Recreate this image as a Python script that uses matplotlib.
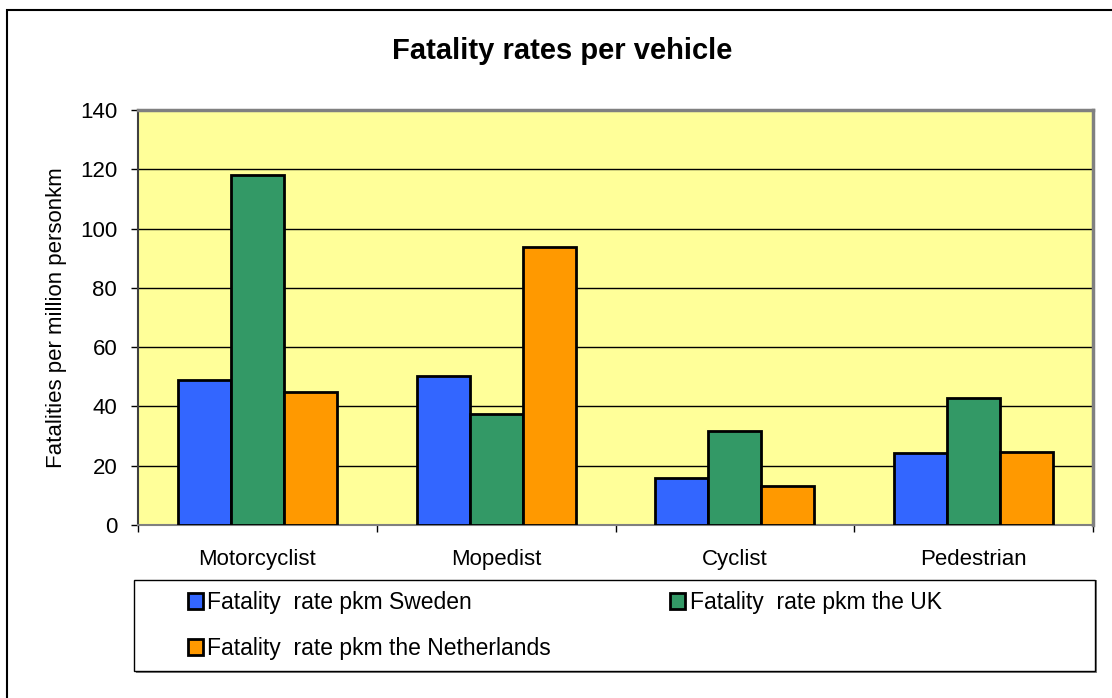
import numpy as np
import matplotlib
matplotlib.use("Agg")
import matplotlib.pyplot as plt
from matplotlib.patches import Rectangle

plt.rcParams['font.family'] = ['Liberation Sans', 'DejaVu Sans']

categories = ["Motorcyclist", "Mopedist", "Cyclist", "Pedestrian"]
series_names = ["Fatality  rate pkm Sweden", "Fatality  rate pkm the UK",
                "Fatality  rate pkm the Netherlands"]
sweden = [48.9, 50.1, 15.7, 24.4]
uk = [118.1, 37.3, 31.8, 42.7]
netherlands = [45.0, 93.7, 13.2, 24.6]
colors = ["#3366FF", "#339966", "#FF9900"]
yticks = [0, 20, 40, 60, 80, 100, 120, 140]

W, H = 1112, 698
fig = plt.figure(figsize=(W / 100, H / 100), dpi=100)

# outer chart border (runs off the right/bottom edges)
fig.add_artist(Rectangle((7 / W, -0.1), 1.2, 1 - 10 / H + 0.1, transform=fig.transFigure,
                         facecolor="white", edgecolor="black", lw=1.5, zorder=0))

ax = fig.add_axes([138 / W, 1 - 525 / H, (1093 - 138) / W, (525 - 110) / H])
ax.set_facecolor("#FFFF99")

x = np.arange(len(categories))
w = 1 / 4.5
handles = []
for j, (vals, name) in enumerate(zip([sweden, uk, netherlands], series_names)):
    b = ax.bar(x + (j - 1) * w, vals, width=w, color=colors[j], edgecolor="black",
               linewidth=2, label=name, zorder=3)
    handles.append(b)

ax.set_ylim(0, 140)
ax.set_xlim(-0.5, 3.5)
ax.set_yticks(yticks)
ax.yaxis.grid(True, color="black", lw=1)
ax.set_axisbelow(True)
ax.tick_params(axis="y", labelsize=16, length=5, width=1, pad=10, direction="out")

ax.set_xticks(x)
ax.set_xticklabels(categories)
ax.set_xticks(np.arange(-0.5, 4, 1), minor=True)
ax.tick_params(axis="x", which="major", length=0, labelsize=16, pad=17)
ax.tick_params(axis="x", which="minor", length=5, width=1, direction="out")

for s in ["top", "right"]:
    ax.spines[s].set_color("#808080")
    ax.spines[s].set_linewidth(2.5)
ax.spines["left"].set_color("#404040")
ax.spines["bottom"].set_color("#808080")
ax.spines["left"].set_linewidth(1.5)
ax.spines["bottom"].set_linewidth(1.5)

ax.set_ylabel("Fatalities per million personkm", fontsize=16)
ax.yaxis.set_label_coords((67 - 138) / (1093 - 138), 0.5)

fig.text(562 / W, 1 - 51 / H, "Fatality rates per vehicle", fontsize=21,
         fontweight="bold", ha="center", va="center")

# legend box
fig.add_artist(Rectangle((136 / W, 1 - 673 / H), (1097 - 136) / W, 93 / H,
                         transform=fig.transFigure, facecolor="#808080",
                         edgecolor="none", zorder=1))
fig.add_artist(Rectangle((134 / W, 1 - 671 / H), (1095 - 134) / W, 91 / H,
                         transform=fig.transFigure, facecolor="white",
                         edgecolor="black", lw=1, zorder=1))
# column-wise fill: Sweden, Netherlands in col 1; UK in col 2
order = [0, 2, 1]
leg = fig.legend(handles=[handles[i] for i in order], loc="upper left", ncol=2,
                 frameon=False, bbox_to_anchor=(188 / W, 1 - 591 / H), fontsize=16.5,
                 borderpad=0, borderaxespad=0, handlelength=0.65, handleheight=0.65,
                 handletextpad=0.2, columnspacing=5.2, labelspacing=1.0)
leg.set_zorder(2)

fig.savefig("out.png", dpi=100)
